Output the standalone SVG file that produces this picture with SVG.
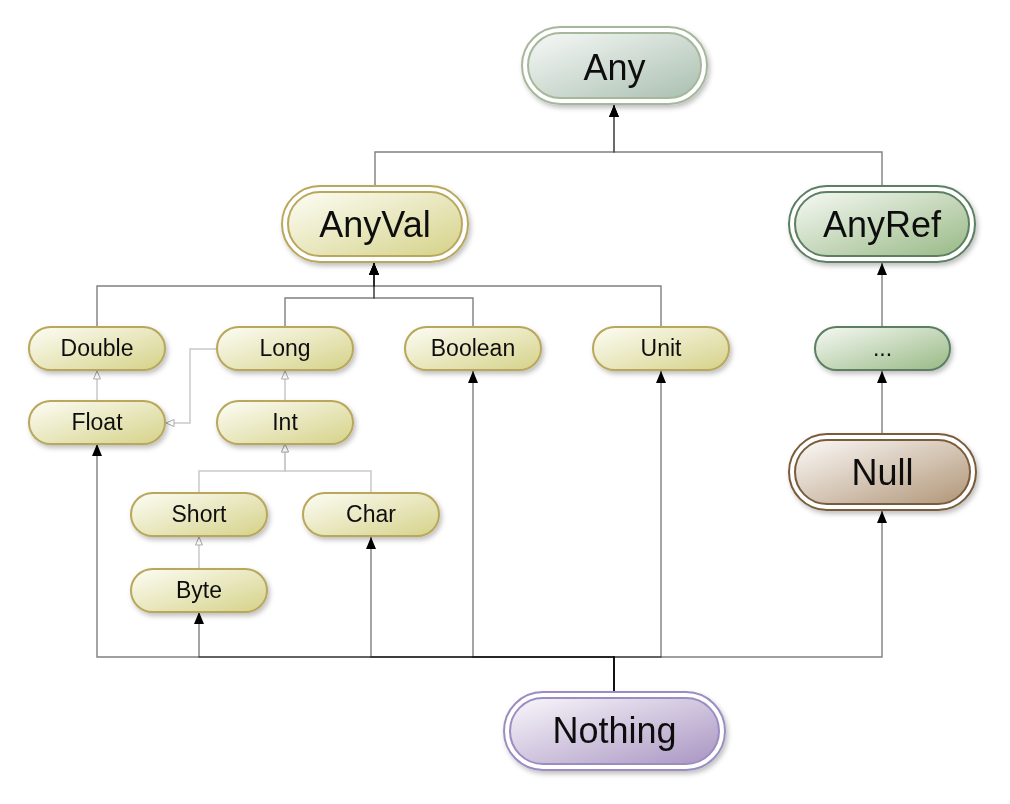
<svg xmlns="http://www.w3.org/2000/svg" width="1010" height="804" viewBox="0 0 1010 804">
<style>
text{font-family:"Liberation Sans",Arial,sans-serif;fill:#111;text-anchor:middle}
.big{font-size:36px}
.sm{font-size:23px}
.c{fill:none;stroke:#000;stroke-opacity:0.5;stroke-width:1.4;marker-end:url(#arr)}
.g{fill:none;stroke:#c9c9c9;stroke-width:1.5;marker-end:url(#harr)}
.yel{fill:url(#gYel);stroke:#b9a75c;stroke-width:2}
.yelo{fill:#fff;stroke:#b9a75c;stroke-width:2}
.any{fill:url(#gAny);stroke:#a6b89c;stroke-width:2}
.anyo{fill:#fff;stroke:#a6b89c;stroke-width:2}
.ref{fill:url(#gRef);stroke:#5b7f62;stroke-width:2}
.refo{fill:#fff;stroke:#5b7f62;stroke-width:2}
.nul{fill:url(#gNul);stroke:#7a5c3a;stroke-width:2}
.nulo{fill:#fff;stroke:#7a5c3a;stroke-width:2}
.not{fill:url(#gNot);stroke:#9b8dc3;stroke-width:2}
.noto{fill:#fff;stroke:#9b8dc3;stroke-width:2}
</style>
<defs>
<linearGradient id="gYel" x1="0" y1="0" x2="1" y2="1"><stop offset="0" stop-color="#fdfdf6"/><stop offset="1" stop-color="#d5d288"/></linearGradient>
<linearGradient id="gAny" x1="0" y1="0" x2="1" y2="1"><stop offset="0" stop-color="#f7f9f7"/><stop offset="1" stop-color="#a9bfb0"/></linearGradient>
<linearGradient id="gRef" x1="0" y1="0" x2="1" y2="1"><stop offset="0" stop-color="#f6f9f4"/><stop offset="1" stop-color="#98b985"/></linearGradient>
<linearGradient id="gNul" x1="0" y1="0" x2="1" y2="1"><stop offset="0" stop-color="#fcfaf8"/><stop offset="1" stop-color="#b09577"/></linearGradient>
<linearGradient id="gNot" x1="0" y1="0" x2="1" y2="1"><stop offset="0" stop-color="#f9f7fb"/><stop offset="1" stop-color="#a995c2"/></linearGradient>
<filter id="sh" x="-20%" y="-30%" width="140%" height="170%"><feDropShadow dx="2" dy="3" stdDeviation="2.5" flood-color="#000" flood-opacity="0.25"/></filter>
<marker id="arr" viewBox="0 0 12 10" refX="12" refY="5" markerWidth="12" markerHeight="10" markerUnits="userSpaceOnUse" orient="auto"><path d="M0,0 L12,5 L0,10 z" fill="#000"/></marker>
<marker id="harr" viewBox="0 0 9 8" refX="8.5" refY="4" markerWidth="9" markerHeight="8" markerUnits="userSpaceOnUse" orient="auto"><path d="M0.5,0.5 L8.5,4 L0.5,7.5 z" fill="#fff" stroke="#aaa" stroke-width="1"/></marker>
</defs>

<g id="connectors">
<path class="c" d="M375,186 V152 H614 V105"/>
<path class="c" d="M882,186 V152 H614 V105"/>
<path class="c" d="M97,327 V286 H374 V263"/>
<path class="c" d="M661,327 V286 H374 V263"/>
<path class="c" d="M285,327 V298 H374 V263"/>
<path class="c" d="M473,327 V298 H374 V263"/>
<path class="c" d="M882,327 V263"/>
<path class="c" d="M882,434 V371"/>
<path class="c" d="M614,692 V657 H97 V444"/>
<path class="c" d="M614,692 V657 H199 V612"/>
<path class="c" d="M614,692 V657 H371 V537"/>
<path class="c" d="M614,692 V657 H473 V371"/>
<path class="c" d="M614,692 V657 H661 V371"/>
<path class="c" d="M614,692 V657 H882 V511"/>
<path class="g" d="M97,401 V371"/>
<path class="g" d="M285,401 V371"/>
<path class="g" d="M217,349 H190 V423 H166"/>
<path class="g" d="M199,493 V471 H285 V444"/>
<path class="g" d="M371,493 V471 H285 V444"/>
<path class="g" d="M199,569 V537"/>
</g>

<g id="Any" filter="url(#sh)">
<rect class="anyo" x="522" y="27" width="185" height="77" rx="38.5"/>
<rect class="any" x="528" y="33" width="173" height="65" rx="32.5"/>
<text class="big" x="614.5" y="80">Any</text>
</g>
<g id="AnyVal" filter="url(#sh)">
<rect class="yelo" x="282" y="186" width="186" height="76" rx="38"/>
<rect class="yel" x="288" y="192" width="174" height="64" rx="32"/>
<text class="big" x="375" y="237">AnyVal</text>
</g>
<g id="AnyRef" filter="url(#sh)">
<rect class="refo" x="789" y="186" width="186" height="76" rx="38"/>
<rect class="ref" x="795" y="192" width="174" height="64" rx="32"/>
<text class="big" x="882" y="237">AnyRef</text>
</g>
<g id="Null" filter="url(#sh)">
<rect class="nulo" x="789" y="434" width="187" height="76" rx="38"/>
<rect class="nul" x="795" y="440" width="175" height="64" rx="32"/>
<text class="big" x="882.5" y="485">Null</text>
</g>
<g id="Nothing" filter="url(#sh)">
<rect class="noto" x="504" y="692" width="221" height="78" rx="39"/>
<rect class="not" x="510" y="698" width="209" height="66" rx="33"/>
<text class="big" x="614.5" y="743">Nothing</text>
</g>

<g id="Double" filter="url(#sh)"><rect class="yel" x="29" y="327" width="136" height="43" rx="21.5"/><text class="sm" x="97" y="356">Double</text></g>
<g id="Long" filter="url(#sh)"><rect class="yel" x="217" y="327" width="136" height="43" rx="21.5"/><text class="sm" x="285" y="356">Long</text></g>
<g id="Boolean" filter="url(#sh)"><rect class="yel" x="405" y="327" width="136" height="43" rx="21.5"/><text class="sm" x="473" y="356">Boolean</text></g>
<g id="Unit" filter="url(#sh)"><rect class="yel" x="593" y="327" width="136" height="43" rx="21.5"/><text class="sm" x="661" y="356">Unit</text></g>
<g id="Etc" filter="url(#sh)"><rect class="ref" x="815" y="327" width="135" height="43" rx="21.5"/><text class="sm" x="882.5" y="356">...</text></g>
<g id="Float" filter="url(#sh)"><rect class="yel" x="29" y="401" width="136" height="43" rx="21.5"/><text class="sm" x="97" y="430">Float</text></g>
<g id="Int" filter="url(#sh)"><rect class="yel" x="217" y="401" width="136" height="43" rx="21.5"/><text class="sm" x="285" y="430">Int</text></g>
<g id="Short" filter="url(#sh)"><rect class="yel" x="131" y="493" width="136" height="43" rx="21.5"/><text class="sm" x="199" y="522">Short</text></g>
<g id="Char" filter="url(#sh)"><rect class="yel" x="303" y="493" width="136" height="43" rx="21.5"/><text class="sm" x="371" y="522">Char</text></g>
<g id="Byte" filter="url(#sh)"><rect class="yel" x="131" y="569" width="136" height="43" rx="21.5"/><text class="sm" x="199" y="598">Byte</text></g>
</svg>
